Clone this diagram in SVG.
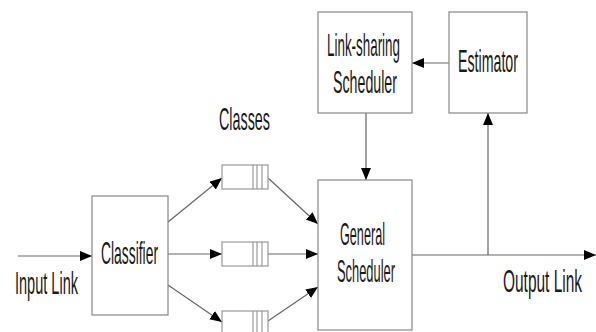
<svg xmlns="http://www.w3.org/2000/svg" width="596" height="332" viewBox="0 0 596 332">
<style>
.box{fill:#fff;stroke:#888;stroke-width:1.2}
.q{fill:#fff;stroke:#999;stroke-width:1.2}
.qs{stroke:#999;stroke-width:1.2}
.c{stroke:#666;stroke-width:1.2;fill:none;marker-end:url(#ah)}
text{font-family:"Liberation Sans Narrow","Liberation Sans",Arial,sans-serif;font-size:18px;fill:#1a1a1a}
</style>
<defs>
<marker id="ah" markerUnits="userSpaceOnUse" markerWidth="13" markerHeight="11" refX="12" refY="5" orient="auto">
<path d="M0,0 L12,5 L0,10 z" fill="#000"/>
</marker>
</defs>
<rect width="596" height="332" fill="#fff"/>
<g id="connectors">
<line class="c" x1="18" y1="256" x2="92" y2="256"/>
<line class="c" x1="168" y1="222" x2="222" y2="178"/>
<line class="c" x1="168" y1="254" x2="222" y2="254"/>
<line class="c" x1="168" y1="285" x2="222" y2="322"/>
<line class="c" x1="268" y1="178" x2="318" y2="224"/>
<line class="c" x1="268" y1="254" x2="318" y2="254"/>
<line class="c" x1="268" y1="321" x2="318" y2="287"/>
<line class="c" x1="412" y1="255" x2="596" y2="255"/>
<line class="c" x1="488" y1="255" x2="488" y2="113"/>
<line class="c" x1="449" y1="63" x2="412" y2="63"/>
<line class="c" x1="366" y1="113" x2="366" y2="180"/>
</g>
<g id="classifier">
<rect class="box" x="92" y="196" width="76" height="119"/>
<text transform="translate(101,264) scale(1,1.7)" textLength="57" lengthAdjust="spacingAndGlyphs">Classifier</text>
</g>
<g id="queue1">
<rect class="q" x="222" y="165" width="46" height="24"/>
<line class="qs" x1="253" y1="165" x2="253" y2="189"/>
<line class="qs" x1="257" y1="165" x2="257" y2="189"/>
<line class="qs" x1="262" y1="165" x2="262" y2="189"/>
</g>
<g id="queue2">
<rect class="q" x="222" y="242" width="46" height="24"/>
<line class="qs" x1="253" y1="242" x2="253" y2="266"/>
<line class="qs" x1="257" y1="242" x2="257" y2="266"/>
<line class="qs" x1="262" y1="242" x2="262" y2="266"/>
</g>
<g id="queue3">
<rect class="q" x="222" y="311" width="46" height="24"/>
<line class="qs" x1="253" y1="311" x2="253" y2="335"/>
<line class="qs" x1="257" y1="311" x2="257" y2="335"/>
<line class="qs" x1="262" y1="311" x2="262" y2="335"/>
</g>
<g id="classes-label">
<text transform="translate(219,130) scale(1,1.7)" textLength="51" lengthAdjust="spacingAndGlyphs">Classes</text>
</g>
<g id="general-scheduler">
<rect class="box" x="318" y="180" width="94" height="150"/>
<text transform="translate(340,245) scale(1,1.7)" textLength="45" lengthAdjust="spacingAndGlyphs">General</text>
<text transform="translate(337,282) scale(1,1.7)" textLength="58" lengthAdjust="spacingAndGlyphs">Scheduler</text>
</g>
<g id="link-sharing-scheduler">
<rect class="box" x="318" y="12" width="94" height="101"/>
<text transform="translate(327,56) scale(1,1.7)" textLength="73" lengthAdjust="spacingAndGlyphs">Link-sharing</text>
<text transform="translate(333,93) scale(1,1.7)" textLength="64" lengthAdjust="spacingAndGlyphs">Scheduler</text>
</g>
<g id="estimator">
<rect class="box" x="449" y="12" width="78" height="101"/>
<text transform="translate(458,72) scale(1,1.7)" textLength="60" lengthAdjust="spacingAndGlyphs">Estimator</text>
</g>
<g id="input-link-label">
<text transform="translate(15,294) scale(1,1.7)" textLength="63" lengthAdjust="spacingAndGlyphs">Input Link</text>
</g>
<g id="output-link-label">
<text transform="translate(503,292) scale(1,1.7)" textLength="79" lengthAdjust="spacingAndGlyphs">Output Link</text>
</g>
</svg>
